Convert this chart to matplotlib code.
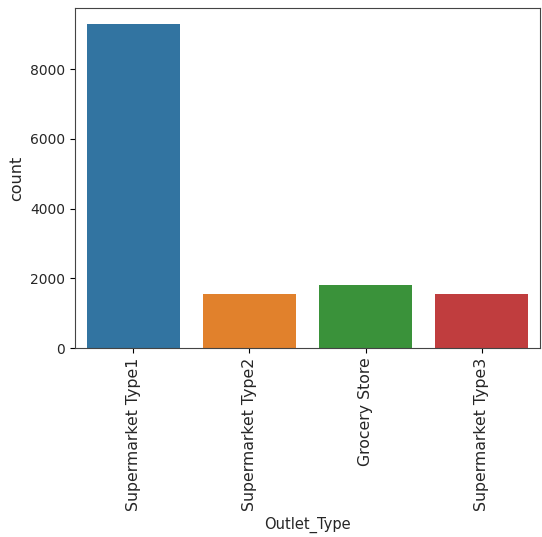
import matplotlib
matplotlib.use("Agg")
import matplotlib.pyplot as plt

categories = ["Supermarket Type1", "Supermarket Type2", "Grocery Store", "Supermarket Type3"]
counts = [9294, 1546, 1805, 1559]
colors = ["#3274a1", "#e1812c", "#3a923a", "#c03d3e"]

fig = plt.figure(figsize=(5.42, 5.37), dpi=100)
ax = fig.add_axes([75/542, 1-348/537, (540-75)/542, (348-8)/537])
x = list(range(len(categories)))
ax.bar(x, counts, width=0.8, color=colors)
ax.set_xlim(-0.5, 3.5)
ax.set_ylim(0, max(counts)*1.05)
ax.set_xticks(x)
ax.set_xticklabels(categories, rotation=90, fontsize=11.3, color="#262626")
ax.set_yticks([0, 2000, 4000, 6000, 8000])
ax.tick_params(axis="y", labelsize=10, labelcolor="#262626")
ax.set_xlabel("Outlet_Type", fontsize=10.5, color="#262626")
ax.set_ylabel("count", fontsize=11.5, color="#262626")
for s in ax.spines.values():
    s.set_color("#444444")
fig.savefig("out.png", dpi=100)
